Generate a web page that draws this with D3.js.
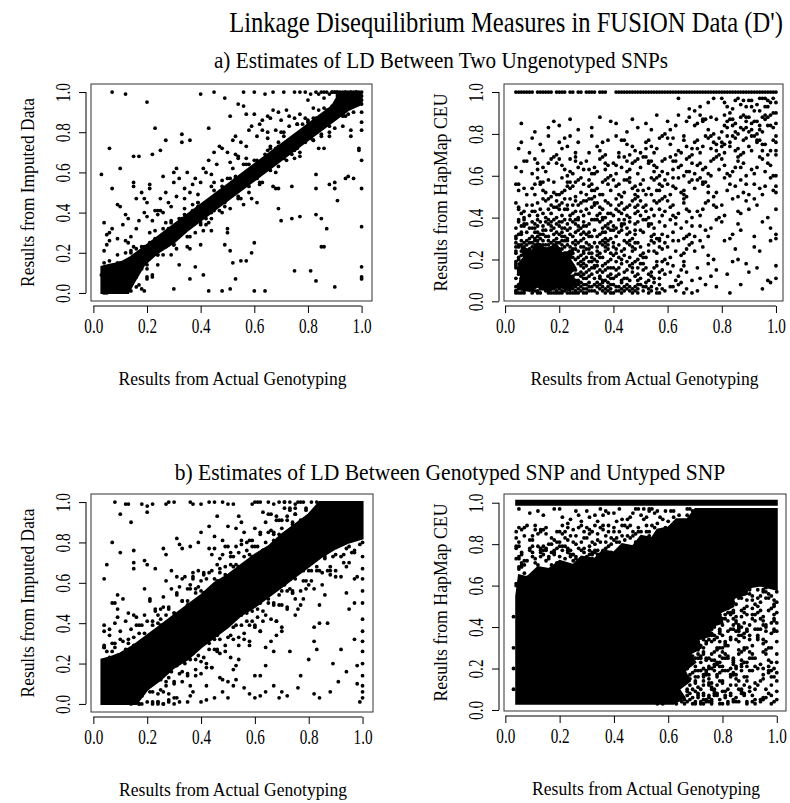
<!DOCTYPE html>
<html>
<head>
<meta charset="utf-8">
<script src="https://cdnjs.cloudflare.com/ajax/libs/d3/7.8.5/d3.min.js"></script>
<style>
  body { margin: 0; background: #fff; }
  text { font-family: "Liberation Serif", "Times New Roman", serif; fill: #000; }
</style>
</head>
<body>
<svg id="chart" width="790" height="803"></svg>
<script>

var tickValues = [0, 0.2, 0.4, 0.6, 0.8, 1.0];
var mainTitle = "Linkage Disequilibrium Measures in FUSION Data (D')";
var subTitleA = "a) Estimates of LD Between Two Ungenotyped SNPs";
var subTitleB = "b) Estimates of LD Between Genotyped SNP and Untyped SNP";
var xLabel = "Results from Actual Genotyping";
var yLabelImputed = "Results from Imputed Data";
var yLabelHapMap = "Results from HapMap CEU";

// point data: flat x,y pairs in hundredths
// "dense" arrays outline the areas where the dots merge into solid black

// ---- a) imputed vs actual ----
var tlDense = [3,0, 13,0, 15,5, 19,14, 24,20, 30,25, 35,31, 41,37, 46,42, 52,48, 57,53, 63,59, 68,64, 74,70, 79,75, 85,81, 90,86, 95,91, 100,94,
  100,100, 92,100, 89,93, 84,88, 78,82, 73,77, 67,71, 62,66, 56,60, 51,55, 45,49, 40,44, 34,38, 29,33, 23,27, 18,22, 14,18, 10,15, 6,14, 3,13];
var tlBand = [
  4,7, 5,0, 6,13, 7,5, 8,9, 9,3, 10,15, 11,10, 12,20, 13,9, 14,16, 15,8, 16,22, 17,14, 18,18, 19,23, 20,12, 21,30, 22,20, 23,26, 24,19, 25,26,
  26,32, 27,23, 28,27, 29,36, 30,24, 31,33, 32,37, 33,30, 34,42, 35,28, 36,36, 37,41, 38,36, 39,45, 40,35, 41,44, 42,34, 43,44, 44,53, 45,41,
  46,48, 47,46, 48,53, 49,43, 50,57, 51,48, 52,52, 53,57, 54,47, 55,58, 56,64, 57,55, 58,53, 59,60, 60,66, 61,57, 62,64, 63,55, 64,69, 65,64,
  66,73, 67,64, 68,72, 69,63, 70,70, 71,80, 72,70, 73,76, 74,69, 75,76, 76,84, 77,70, 78,80, 79,75, 80,86, 81,80, 82,87, 83,80, 84,91, 85,79,
  86,86, 87,90, 88,80, 89,93, 90,88, 91,100, 92,93, 93,88, 94,100, 95,92, 96,98, 97,90, 98,100, 99,98,
  4,0, 5,9, 6,4, 7,8, 8,3, 9,15, 10,3, 11,14, 12,12, 13,9, 14,21, 15,12, 16,8, 17,19, 18,23, 19,18, 20,14, 21,25, 22,20, 23,31, 24,19, 25,26,
  26,19, 27,30, 28,24, 29,35, 30,30, 31,22, 32,34, 33,30, 34,39, 35,34, 36,28, 37,44, 38,36, 39,43, 40,34, 41,42, 42,37, 43,46, 44,37, 45,51,
  46,46, 47,44, 48,56, 49,45, 50,52, 51,42, 52,51, 53,58, 54,48, 55,58, 56,54, 57,64, 58,50, 59,60, 60,57, 61,66, 62,55, 63,65, 64,63, 65,71,
  66,61, 67,68, 68,60, 69,73, 70,68, 71,78, 72,66, 73,76, 74,74, 75,71, 76,84, 77,68, 78,80, 79,76, 80,85, 81,80, 82,76, 83,87, 84,85, 85,78,
  86,92, 87,85, 88,83, 89,92, 90,82, 91,98, 92,92, 93,89, 94,96, 95,89, 96,100, 97,94, 98,100, 99,98,
  5,11, 7,3, 9,19, 11,3, 13,25, 15,23, 17,13, 19,21, 21,19, 23,27, 25,41, 27,35, 29,19, 31,33, 33,37, 35,23, 37,37, 39,45, 41,31, 43,35,
  45,55, 47,41, 49,49, 51,57, 53,69, 55,47, 57,67, 59,47, 61,45, 63,81, 65,77, 67,53, 69,75, 71,67, 73,83, 75,67, 77,89, 79,87, 81,77, 83,85,
  85,83, 87,91, 89,100, 91,99, 93,83, 95,97,
  6,16, 8,6, 10,12, 12,8, 14,20, 16,32, 18,12, 20,8, 22,8, 24,14, 26,40, 28,32, 30,24, 32,14, 34,36, 36,22, 38,30, 40,24, 42,40, 44,40,
  46,48, 48,40, 50,32, 52,62, 54,68, 56,44, 58,64, 60,60, 62,54, 64,62, 66,72, 68,52, 70,80, 72,70, 74,76, 76,72, 78,84, 80,96, 82,76, 84,72,
  86,72, 88,78, 90,100, 92,96, 94,88, 96,78
];
var tlScatter = [
  7,100, 12,99, 20,95, 3,59, 6,72, 10,62, 7,52, 4,35, 23,82, 27,76, 25,71, 22,69, 15,68, 17,68, 33,79, 33,75, 36,76, 43,82, 40,99, 45,100,
  49,97, 54,94, 56,93, 56,100, 60,100, 64,99, 67,100, 71,100, 57,89, 60,89, 51,88, 67,91, 65,88, 15,55, 15,53, 9,44, 10,43, 12,39, 13,37, 16,47,
  18,50, 19,47, 20,45, 21,52, 21,54, 19,40, 23,41, 24,41, 26,58, 28,45, 30,60, 31,62, 32,57, 30,55, 27,50, 25,47, 29,43, 31,48, 34,52, 35,60,
  37,54, 36,50, 38,57, 41,62, 42,60, 43,66, 45,70, 46,64, 47,73, 48,72, 50,70, 52,76, 53,78, 55,75, 58,81, 59,83, 62,84, 63,86, 66,87, 69,90,
  72,91, 70,86, 73,88, 61,78, 57,73, 44,59, 40,55, 24,39, 22,36, 14,28, 12,26, 9,27, 6,26, 5,29, 7,32, 11,34, 17,36, 20,38, 34,47, 39,49,
  51,65, 54,67, 65,80, 68,81, 75,87, 82,92, 86,97, 4,15, 4,21, 5,24, 3,9, 6,30,
  100,52, 100,13, 100,8, 100,7, 100,33, 100,66, 99,72, 99,71, 100,81, 100,85, 100,90, 96,81, 97,57, 95,58, 94,57, 90,55, 90,52, 91,46, 88,54, 87,32,
  85,37, 85,23, 86,23, 83,39, 83,52, 83,59, 77,38, 74,37, 74,53, 69,42, 70,36, 69,52, 75,11, 81,11, 83,6, 90,3, 60,1, 64,1, 51,2, 48,1,
  43,1, 36,7, 30,2, 41,9, 52,15, 55,16, 57,16, 60,25, 59,20, 53,7, 38,13, 49,24, 50,30, 51,21, 44,31, 14,1, 16,3, 18,2, 11,1, 9,1, 19,1,
  17,4, 20,7, 22,9,
  75,100, 77,100, 79,100, 81,99, 83,100, 84,99, 85,100, 86,100, 87,100, 88,99, 89,100, 90,100, 91,100, 92,100, 93,100, 94,100, 95,100, 96,100,
  97,100, 98,100, 99,100, 100,100, 100,98, 100,96, 100,94, 99,97
];

// ---- a) HapMap vs actual ----
var trTopRowX = [4,5,6,7,8,9,10,12,13,14,15,16,17,19,20,21,22,24,25,27,28,30,31,32,33,35,36,37,41,42,43,44,45,46,47,48,49,50,51,52,53,54,55,56,57,58,
  59,60,61,62,63,64,65,66,67,68,69,70,71,72,73,74,75,76,77,78,79,80,81,82,83,84,85,86,87,88,89,90,91,92,93,94,95,96,97,98,99,100];
var trDense = [5,6, 9,5, 12,7, 16,5, 20,7, 24,5, 26,9, 23,12, 26,16, 24,20, 25,24, 21,23, 19,27, 15,25, 12,28, 10,24, 6,26, 7,21, 5,18, 6,13];
var trPoints = [
  7,5, 6,6, 9,9, 5,7, 4,4, 7,4, 6,7, 5,6, 4,5, 8,8, 6,4,
  17,6, 10,5, 14,8, 18,7, 12,4, 15,5, 19,7, 11,9, 16,5, 13,4, 17,8, 10,6, 14,6, 16,7, 19,4, 12,5, 15,6, 18,9, 11,7, 17,4, 13,8, 10,4,
  21,9, 26,5, 23,4, 27,8, 20,6, 24,6, 26,7, 29,4, 22,5, 25,6, 28,9, 21,7, 27,4, 23,8, 20,4, 24,7, 29,6, 26,8, 21,5, 28,5,
  39,4, 32,5, 35,6, 38,9, 31,7, 37,4, 33,8, 30,4, 34,7, 39,6, 36,7, 31,5, 38,5, 35,8, 32,7, 37,6,
  40,4, 44,7, 49,6, 46,7, 41,5, 48,5, 45,6, 42,7, 47,4, 43,4, 40,8, 44,5, 43,6, 48,7,
  52,7, 57,4, 53,4, 50,8, 54,5, 53,6, 58,6, 55,9, 51,7, 56,4, 65,9, 61,7, 66,4, 69,4, 62,7, 74,8, 78,7, 83,4, 87,8, 95,6, 98,9,
  7,13, 5,15, 4,17, 7,10, 5,14, 4,18, 8,12, 4,19, 6,11, 9,18, 6,15, 5,13, 5,16, 7,14, 4,16,
  16,19, 19,10, 12,11, 15,18, 18,15, 11,13, 17,16, 13,14, 10,16, 14,19, 19,18, 16,13, 11,11, 18,17, 15,12, 12,19, 17,10, 13,16, 10,14, 14,17,
  13,17, 18,12, 15,15, 11,19, 16,10, 19,16, 12,13, 17,18, 10,11, 14,14,
  23,14, 20,16, 24,19, 29,18, 26,13, 21,11, 28,17, 25,12, 22,19, 27,10, 23,16, 20,14, 24,17, 23,17, 28,12, 25,15, 21,19, 26,10, 29,16, 22,13,
  27,18, 20,11, 24,14, 28,19, 22,16, 25,11, 29,13, 21,15,
  35,12, 32,19, 37,10, 33,16, 30,14, 34,17, 33,17, 38,12, 35,15, 31,19, 36,10, 39,16, 32,13, 37,18, 30,11, 34,14, 38,19, 32,16, 35,11, 39,13,
  31,15, 36,17,
  48,12, 45,15, 41,19, 46,10, 49,16, 42,13, 47,18, 40,11, 44,14, 48,19, 42,16, 45,11, 49,13, 41,15, 46,17, 43,10, 47,14,
  50,11, 54,14, 58,19, 52,16, 55,11, 59,13, 51,15, 56,17, 53,10, 57,14, 50,18, 54,12, 56,19,
  66,17, 63,10, 67,14, 60,18, 64,12, 66,19, 69,10, 72,11, 75,18, 78,15, 84,19, 89,18, 97,10, 93,16, 90,14,
  5,26, 7,24, 4,26, 8,29, 7,28, 4,23, 5,21, 6,27, 9,22, 6,29, 5,20, 7,26, 4,24, 8,27,
  18,27, 15,22, 12,29, 17,20, 13,26, 10,24, 14,27, 13,27, 18,22, 15,25, 11,29, 16,20, 19,26, 12,23, 17,28, 10,21, 14,24, 18,29, 12,26, 15,21,
  19,23, 11,25, 16,27, 13,20, 17,24, 10,28, 14,22, 16,29,
  23,27, 28,22, 25,25, 21,29, 26,20, 29,26, 22,23, 27,28, 20,21, 24,24, 28,29, 22,26, 25,21, 29,23, 21,25, 26,27, 23,20, 27,24, 20,28, 24,22,
  26,29, 29,20, 22,21, 25,28,
  37,28, 30,21, 34,24, 38,29, 32,26, 35,21, 39,23, 31,25, 36,27, 33,20, 37,24, 30,28, 34,22, 36,29, 39,20, 32,21, 35,28, 38,25, 31,23, 37,26,
  41,25, 46,27, 43,20, 47,24, 40,28, 44,22, 46,29, 49,20, 42,21, 45,28, 48,25, 41,23, 47,26, 43,24, 40,26, 44,29, 49,28,
  59,20, 52,21, 55,28, 58,25, 51,23, 57,26, 53,24, 50,26, 54,29, 59,28, 56,23, 51,21,
  60,26, 64,29, 69,28, 66,23, 61,21, 68,27, 65,22, 62,29, 72,29, 77,20, 73,26, 70,24, 85,25, 81,29, 86,20, 94,24, 98,29, 92,26,
  8,37, 7,37, 6,32, 9,35, 5,39, 4,30, 7,36, 6,33, 5,38, 4,31,
  12,33, 17,38, 10,31, 14,34, 18,39, 12,36, 15,31, 19,33, 11,35, 16,37, 13,30, 17,34, 10,38, 14,32, 16,39, 19,30, 12,31, 15,38, 18,35, 11,33,
  29,33, 21,35, 26,37, 23,30, 27,34, 20,38, 24,32, 26,39, 29,30, 22,31, 25,38, 28,35, 21,33, 27,36, 23,34, 20,36, 24,39, 29,38, 26,33, 21,31,
  36,39, 39,30, 32,31, 35,38, 38,35, 31,33, 37,36, 33,34, 30,36, 34,39, 39,38, 36,33, 31,31, 38,37, 35,32, 32,39, 37,30,
  43,34, 40,36, 44,39, 49,38, 46,33, 41,31, 48,37, 45,32, 42,39, 47,30, 43,36, 40,34, 44,37, 43,37, 48,32, 45,35,
  55,32, 52,39, 57,30, 53,36, 50,34, 54,37, 53,37, 58,32, 55,35, 51,39, 56,30, 59,36,
  68,32, 65,35, 61,39, 66,30, 69,36, 62,33, 67,38, 60,31, 70,31, 74,34, 78,39, 72,36, 75,31, 86,37, 83,30, 87,34, 80,38, 92,31, 95,38, 98,35,
  9,41, 7,43, 5,45, 4,47, 7,40, 5,44,
  14,42, 16,49, 19,40, 12,41, 15,48, 18,45, 11,43, 17,46, 13,44, 10,46, 14,49, 19,48,
  27,46, 23,44, 20,46, 24,49, 29,48, 26,43, 21,41, 28,47, 25,42, 22,49, 27,40, 23,46, 20,44,
  38,47, 35,42, 32,49, 37,40, 33,46, 30,44, 34,47, 33,47, 38,42, 35,45, 31,49, 36,40, 39,46,
  43,47, 48,42, 45,45, 41,49, 46,40, 49,46, 42,43, 47,48, 40,41, 44,44, 48,49, 42,46, 45,41, 49,43,
  57,48, 50,41, 54,44, 58,49, 52,46, 55,41, 59,43, 51,45, 56,47, 53,40, 57,44, 50,48,
  61,45, 66,47, 63,40, 67,44, 60,48, 64,42, 66,49, 69,40, 62,41, 79,40, 72,41, 75,48, 78,45, 71,43, 77,46, 73,44,
  80,46, 84,49, 89,48, 86,43, 81,41, 92,49, 97,40, 93,46, 90,44,
  5,53, 5,56, 7,54, 4,56, 11,51, 18,57, 15,52, 12,59, 17,50, 13,56, 10,54, 14,57, 13,57, 18,52,
  24,57, 23,57, 28,52, 25,55, 21,59, 26,50, 29,56, 22,53, 27,58, 20,51, 24,54,
  32,53, 37,58, 30,51, 34,54, 38,59, 32,56, 35,51, 39,53, 31,55, 36,57, 33,50,
  49,53, 41,55, 46,57, 43,50, 47,54, 40,58, 44,52, 46,59, 49,50, 42,51, 45,58, 48,55,
  56,59, 59,50, 52,51, 55,58, 58,55, 51,53, 57,56, 53,54, 50,56, 54,59, 59,58, 56,53,
  63,54, 60,56, 64,59, 69,58, 66,53, 61,51, 68,57, 65,52, 62,59, 67,50,
  75,52, 72,59, 77,50, 73,56, 70,54, 74,57, 73,57, 78,52, 75,55, 88,52, 85,55, 81,59, 86,50, 89,56, 82,53, 87,58,
  90,51, 94,54, 98,59, 92,56, 95,51, 99,53,
  4,64, 8,67, 7,67, 19,66, 12,63, 17,68, 10,61, 14,64, 18,69, 12,66,
  25,61, 29,63, 21,65, 26,67, 23,60, 27,64, 20,68, 24,62, 26,69, 34,62, 36,69, 39,60, 32,61, 35,68, 38,65, 31,63, 37,66, 33,64,
  47,66, 43,64, 40,66, 44,69, 49,68, 46,63, 41,61, 48,67, 45,62, 42,69,
  58,67, 55,62, 52,69, 57,60, 53,66, 50,64, 54,67, 53,67, 58,62, 55,65, 51,69,
  63,67, 68,62, 65,65, 61,69, 66,60, 69,66, 62,63, 67,68, 60,61, 64,64, 68,69,
  77,68, 70,61, 74,64, 78,69, 72,66, 75,61, 79,63, 71,65, 76,67, 81,65, 86,67, 83,60, 87,64, 80,68, 84,62, 86,69, 89,60, 82,61,
  99,60, 92,61, 95,68, 98,65, 91,63, 97,66, 93,64,
  6,76, 9,71, 10,78, 14,72, 16,79, 19,70, 21,73, 27,76, 23,74, 20,76, 24,79, 31,71, 38,77, 35,72, 32,79, 37,70,
  44,77, 43,77, 48,72, 45,75, 41,79, 46,70, 52,73, 57,78, 50,71, 54,74, 58,79, 52,76, 55,71,
  69,73, 61,75, 66,77, 63,70, 67,74, 60,78, 64,72, 66,79, 69,70,
  76,79, 79,70, 72,71, 75,78, 78,75, 71,73, 77,76, 73,74, 70,76, 74,79, 79,78, 76,73,
  83,74, 80,76, 84,79, 89,78, 86,73, 81,71, 88,77, 85,72, 82,79, 87,70, 83,76, 80,74,
  95,72, 92,79, 97,70, 93,76, 90,74, 94,77, 93,77, 98,72, 95,75, 91,79,
  6,85, 16,83, 11,81, 20,84, 24,87, 39,86, 32,83, 45,81, 49,83, 41,85, 54,82, 56,89, 59,80, 67,86, 63,84, 60,86, 64,89,
  78,87, 75,82, 72,89, 77,80, 73,86, 70,84, 74,87, 73,87,
  83,87, 88,82, 85,85, 81,89, 86,80, 89,86, 82,83, 87,88, 80,81, 84,84, 88,89, 82,86, 85,81, 89,83,
  97,88, 90,81, 94,84, 98,89, 92,86, 95,81, 99,83, 91,85, 96,87, 93,80, 97,84, 90,88, 94,82, 96,89,
  64,97, 72,93, 77,97, 70,91, 89,93, 81,95, 86,97, 83,90, 87,94, 80,97, 84,92, 85,96,
  96,97, 99,90, 92,91, 95,97, 98,95, 91,93, 97,96, 93,94, 90,96, 94,97, 99,97, 96,93,
  100,11, 100,17, 100,30, 100,32, 100,44, 100,52, 100,55, 100,60, 100,70, 100,72, 100,76, 100,79, 100,85, 100,90, 100,95
];
var trMore = [
  5,4, 4,5, 8,6, 7,8, 4,7, 5,8, 7,6, 6,9,
  19,8, 10,7, 17,7, 13,6, 18,4, 15,8, 16,8, 19,5, 14,9, 11,5, 12,8, 18,6, 11,8, 16,4,
  20,8, 22,7, 22,9, 23,6, 24,4, 25,8, 25,4, 27,6, 28,7, 29,8, 21,4, 26,4, 24,9, 27,9,
  30,6, 33,5, 34,4, 36,5, 38,7, 39,8, 31,9, 34,9, 36,9, 30,8, 41,7, 42,5, 45,8, 46,5, 47,6, 49,8, 43,9, 49,4,
  51,5, 54,7, 56,6, 57,8, 59,5, 52,9, 63,5, 67,6, 64,8, 71,5,
  8,16, 9,11, 6,18, 7,17, 9,14, 8,19, 6,13, 4,11,
  10,19, 12,15, 13,11, 16,15, 17,12, 18,10, 19,13, 11,17, 13,19, 15,14,
  20,18, 21,13, 22,11, 23,19, 24,12, 25,17, 26,15, 27,13, 28,14, 29,11,
  30,17, 31,12, 33,11, 34,19, 36,14, 37,15, 38,16, 39,11, 40,16, 41,12, 43,18, 44,11, 45,19, 47,16, 49,10,
  51,18, 53,13, 55,16, 57,11, 58,15, 61,14, 62,17, 65,15, 71,16, 76,12, 82,13,
  9,25, 6,22, 8,21, 4,28, 9,28, 6,24, 8,23, 5,27,
  10,26, 11,21, 11,27, 12,20, 13,23, 14,29, 15,27, 16,24, 17,22, 18,25, 19,21, 19,28,
  20,23, 21,27, 22,29, 23,22, 24,26, 25,23, 26,25, 27,21, 28,26, 29,24, 20,25, 23,29,
  30,25, 31,27, 32,23, 33,28, 34,26, 35,23, 36,21, 38,27, 40,22, 42,27, 44,25, 46,21, 48,28,
  50,22, 53,27, 55,24, 57,29, 63,24, 67,25, 75,22,
  4,35, 6,36, 8,33, 9,30, 5,32, 7,39,
  10,35, 11,37, 12,39, 13,32, 14,36, 15,34, 16,31, 17,36, 18,32, 19,37, 13,38, 11,30,
  20,32, 21,38, 22,35, 23,37, 24,35, 25,31, 27,39, 28,32, 29,36, 22,39,
  30,32, 31,37, 33,39, 34,31, 36,35, 37,33, 39,34, 41,35, 42,33, 46,38, 48,34, 51,33, 54,31, 57,38, 63,37, 67,31, 76,35, 84,32,
  6,42, 8,46, 10,43, 12,47, 15,40, 16,44, 17,42, 19,45, 21,47, 22,44, 24,41, 25,46, 26,48, 28,43, 29,41,
  30,48, 31,42, 32,45, 34,41, 36,44, 37,48, 39,42, 41,44, 43,42, 46,46, 48,45, 52,43, 55,48, 58,41, 62,46, 68,43, 74,47, 87,42,
  8,51, 11,56, 14,53, 16,58, 19,51, 21,52, 23,55, 26,57, 28,59, 31,58, 33,53, 36,51, 38,56, 42,56, 44,58, 48,51,
  51,58, 54,51, 57,53, 62,55, 66,51, 71,58, 83,56, 96,55,
  6,62, 11,68, 15,62, 16,66, 22,63, 28,66, 24,68, 30,67, 33,61, 37,63, 41,65, 45,67, 49,61, 56,64, 59,68,
  62,67, 67,62, 73,63, 76,60, 85,64, 88,66, 94,69, 96,62,
  5,73, 13,75, 22,78, 26,71, 34,74, 36,76, 42,71, 47,74, 53,77, 56,73, 62,78, 65,71, 71,77, 78,72, 81,75, 85,78, 88,71, 91,72, 96,75, 99,77,
  18,86, 27,82, 35,88, 47,87, 52,85, 61,82, 68,88, 71,85, 76,88, 81,84, 84,87, 87,83, 89,88, 91,82, 93,86, 95,88, 98,84,
  68,92, 75,95, 82,93, 88,96, 91,96, 94,91, 97,93
];

// ---- b) imputed vs actual ----
var blDense = [3,0, 16,0, 20,7, 25,12, 30,18, 35,22, 40,28, 45,33, 50,38, 55,44, 60,48, 65,53, 70,58, 75,63, 80,68, 85,73, 90,77, 95,80, 100,82,
  100,100, 84,100, 80,94, 75,89, 70,84, 65,78, 60,74, 55,69, 50,64, 45,60, 40,54, 35,49, 30,44, 25,39, 20,34, 15,29, 10,25, 6,23, 3,22];
var blPoints = [
  4,28, 5,21, 6,34, 7,26, 8,30, 9,24, 10,36, 11,31, 12,41, 13,30, 14,37, 15,29, 16,43, 17,35, 18,39, 19,44, 20,33, 21,51, 22,41, 23,47, 24,40,
  25,47, 26,53, 27,44, 28,48, 29,57, 30,45, 31,54, 32,58, 33,51, 34,63, 35,49, 36,57, 37,62, 38,57, 39,66, 40,56, 41,65, 42,55, 43,65, 44,74,
  45,62, 46,69, 47,67, 48,74, 49,64, 50,78, 51,69, 52,73, 53,78, 54,68, 55,79, 56,85, 57,76, 58,74, 59,81, 60,87, 61,78, 62,85, 63,76, 64,90,
  65,85, 66,94, 67,85, 68,93, 69,84, 70,91, 71,100, 72,91, 73,97, 74,90, 75,97, 76,100, 77,91, 78,100, 79,96, 81,100, 83,100,
  4,28, 5,16, 6,23, 7,21, 8,28, 9,18, 10,32, 11,23, 12,27, 13,32, 14,22, 15,33, 16,39, 17,30, 18,28, 19,35, 20,41, 21,32, 22,39, 23,30, 24,44,
  25,39, 26,48, 27,39, 28,47, 29,38, 30,45, 31,55, 32,45, 33,51, 34,44, 35,51, 36,59, 37,45, 38,55, 39,50, 40,61, 41,55, 42,62, 43,55, 44,66,
  45,54, 46,61, 47,65, 48,55, 49,68, 50,63, 51,75, 52,68, 53,63, 54,75, 55,67, 56,73, 57,65, 58,81, 59,73, 60,78, 61,71, 62,84, 63,76, 64,80,
  65,74, 66,86, 67,81, 68,91, 69,80, 70,87, 71,79, 72,93, 73,85, 74,89, 75,94, 76,83, 77,100, 78,91, 79,97, 80,90,
  5,22, 7,30, 9,43, 11,52, 13,45, 15,44, 17,39, 19,57, 21,52, 23,46, 25,42, 27,61, 29,66, 31,63, 33,62, 35,57, 37,63, 39,58, 41,64, 43,77,
  45,77, 47,72, 49,78, 51,73, 53,69, 55,81, 57,80, 59,78, 61,100, 63,95, 65,94, 67,84, 69,91, 71,97, 73,96, 75,94,
  14,2, 17,0, 18,4, 21,6, 22,1, 23,12, 24,0, 25,7, 26,0, 27,11, 28,5, 29,16, 30,11, 31,3, 32,15, 33,11, 34,20, 35,15, 36,9, 37,25, 38,17,
  39,24, 40,15, 41,23, 42,18, 43,27, 44,18, 45,32, 46,27, 47,25, 48,37, 49,26, 50,33, 51,23, 52,32, 53,39, 54,29, 55,39, 56,35, 57,45, 58,31,
  59,41, 60,38, 61,47, 62,36, 63,46, 64,44, 65,52, 66,42, 67,49, 68,41, 69,54, 70,49, 71,59, 72,47, 73,57, 74,55, 75,52, 76,65, 77,49, 78,61,
  79,57, 80,66, 81,61, 82,57, 83,68, 84,66, 85,59, 86,73, 87,66, 88,64, 89,73, 90,63, 91,79, 92,73, 93,70, 94,77, 95,70, 96,82, 97,75, 98,87, 99,79,
  16,8, 17,0, 18,4, 19,9, 21,16, 22,6, 23,12, 24,5, 25,12, 26,18, 27,9, 28,13, 29,22, 30,10, 31,19, 32,23, 33,16, 34,28, 35,14, 36,22, 37,27,
  38,22, 39,31, 40,21, 41,30, 42,20, 43,30, 44,39, 45,27, 46,34, 47,32, 48,39, 49,29, 50,43, 51,34, 52,38, 53,43, 54,33, 55,44, 56,50, 57,41,
  58,39, 59,46, 60,52, 61,43, 62,50, 63,41, 64,55, 65,50, 66,59, 67,50, 68,58, 69,49, 70,56, 71,66, 72,56, 73,62, 74,55, 75,62, 76,70, 77,56,
  78,66, 79,61, 80,72, 81,66, 82,73, 83,66, 84,77, 85,65, 86,72, 87,76, 88,66, 89,79, 90,74, 91,86, 92,79, 93,74, 94,86, 95,78, 96,84, 97,76,
  98,92, 99,84,
  20,1, 24,1, 26,6, 28,2, 36,4, 38,14, 42,9, 44,18, 46,26, 48,12, 50,11, 52,17, 54,22, 56,32, 58,29, 60,39, 62,36, 64,28, 66,31, 68,41,
  70,38, 72,48, 74,56, 76,47, 78,52, 80,59, 82,38, 84,49, 86,54, 88,68, 90,66, 92,63, 94,68, 96,75, 98,63,
  8,100, 12,99, 13,99, 18,99, 20,98, 20,95, 22,99, 27,99, 28,100, 30,100, 36,100, 37,99, 40,99, 43,100, 45,100, 48,100, 50,99, 52,99, 59,99,
  60,100, 62,100, 65,100, 67,99, 69,100, 71,100, 73,100, 75,99,
  10,94, 7,80, 10,75, 5,69, 4,62, 7,50, 8,50, 9,54, 9,47, 15,70, 15,67, 15,76, 14,90, 19,71, 20,69, 23,67, 26,77, 27,74, 31,82, 32,79, 33,77,
  37,65, 36,78, 39,80, 40,85, 43,88, 45,83, 46,93, 50,88, 48,81, 53,87, 55,90, 54,93, 4,39, 4,36, 4,29, 5,26, 6,37, 8,40,
  100,80, 100,73, 100,67, 100,62, 100,56, 100,50, 100,42, 100,36, 100,31, 100,26, 100,20, 100,14, 100,9, 100,6, 100,3, 99,1, 98,10, 98,19,
  97,32, 97,50, 95,47, 97,62, 94,55, 94,16, 92,27, 89,20, 88,6, 91,11, 84,3, 82,5, 80,22, 82,31, 83,27, 84,40, 87,40, 77,14, 76,8, 72,4,
  70,6, 69,3, 67,9, 64,6, 62,4, 60,3, 58,5, 56,8, 53,12, 52,9, 50,3, 48,6, 45,3, 42,2, 40,1, 37,6, 35,1, 32,1, 30,3, 68,34, 70,36, 75,44,
  73,26, 67,26, 64,19, 62,14, 60,14, 53,19, 47,13, 14,0, 16,1, 18,0, 22,0, 24,1, 26,0, 28,1, 30,0
];

// ---- b) HapMap vs actual ----
var brTopRow = [4,99, 100,99, 100,101, 4,101];
var brDense = [4,3, 62,3, 66,6, 64,10, 68,14, 66,19, 70,23, 68,27, 72,30, 71,34, 76,36, 75,40, 80,42, 79,47, 84,50, 84,54, 89,56, 89,59, 94,60, 100,58,
  100,97, 70,97, 67,92, 63,92, 60,88, 56,87, 54,83, 50,84, 47,79, 43,80, 40,76, 36,77, 33,73, 28,74, 25,70, 20,72, 16,68, 12,69, 8,64, 5,65, 4,55];
var brPoints = [
  5,69, 4,60, 7,66, 6,63, 5,68, 4,61, 8,64, 6,69, 7,70, 5,74, 4,78, 8,72, 4,79, 6,71, 9,78, 6,75, 5,73,
  15,78, 18,75, 11,73, 17,76, 13,74, 10,76, 14,79, 19,78, 16,73, 11,71, 18,77, 15,72, 12,79, 17,70, 13,76, 10,74, 14,77, 13,77,
  29,78, 26,73, 21,71, 28,77, 25,72, 22,79, 27,70, 23,76, 20,74, 24,77, 23,77, 28,72, 25,75, 21,79, 26,70, 29,76, 22,73, 27,78, 20,71, 24,74,
  33,76, 30,74, 34,77, 33,77, 38,72, 35,75, 31,79, 36,70, 39,76, 32,73, 37,78, 30,71, 34,74, 38,79, 32,76, 35,71, 39,73, 31,75, 36,77, 33,70,
  46,70, 49,76, 42,73, 47,78, 40,71, 44,74,
  8,89, 7,88, 4,83, 5,81, 6,87, 17,80, 13,86, 10,84, 14,87, 13,87, 18,82, 15,85, 11,89, 16,80, 19,86,
  21,89, 26,80, 29,86, 22,83, 27,88, 20,81, 24,84, 28,89, 22,86, 25,81, 29,83, 21,85,
  38,89, 32,86, 35,81, 39,83, 31,85, 36,87, 33,80, 37,84, 30,88, 34,82, 36,89, 39,80, 32,81, 35,88,
  47,84, 40,88, 44,82, 46,89, 49,80, 42,81, 45,88, 48,85, 41,83, 47,86, 43,84, 40,86, 44,89, 49,88, 46,83, 41,81,
  58,85, 51,83, 57,86, 53,84, 50,86, 54,89, 59,88, 56,83, 51,81, 58,87, 55,82, 52,89, 57,80, 53,86,
  66,83, 61,81, 68,87, 65,82, 62,89,
  9,95, 5,97, 14,94, 18,97, 12,96, 23,90, 27,94, 20,97, 24,92, 35,97, 38,95, 31,93, 37,96, 33,94,
  49,97, 46,93, 41,91, 48,97, 45,92, 42,97, 53,96, 50,94, 54,97, 53,97, 58,92, 55,95, 51,97, 56,90, 59,96, 52,93,
  66,90, 69,96, 62,93, 67,97, 60,91, 64,94, 68,97, 62,96, 65,91, 69,93,
  58,3, 58,5, 55,8, 56,5, 56,3, 59,9,
  67,4, 60,4, 64,7, 68,5, 62,9, 65,4, 69,6, 61,8, 66,3, 63,3, 67,7, 64,5, 66,5, 69,3, 62,4, 68,8, 61,6, 67,9, 63,7, 60,9,
  66,19, 69,10, 62,11, 65,18, 68,15, 61,13, 67,16, 63,14, 60,16, 64,19, 69,18, 66,13, 61,11, 68,17, 65,12, 62,19, 67,10, 63,16, 60,14, 64,17,
  63,17, 68,12,
  68,27, 65,22, 62,29, 67,20, 63,26, 60,24, 64,27, 63,27, 68,22, 65,25, 61,29, 66,20, 69,26, 62,23, 67,28, 60,21, 64,24, 68,29, 62,26, 65,21,
  69,23, 61,25,
  62,33, 67,38, 60,31, 64,34, 68,39, 62,36, 65,31, 69,33, 61,35, 66,37, 63,30, 67,34, 60,38, 64,32, 66,39, 69,30,
  71,8, 76,3, 73,3, 77,7, 70,4, 74,5, 76,5, 79,3, 72,4, 75,4, 78,8, 71,6, 77,9, 73,7, 70,9,
  73,14, 70,16, 74,19, 79,18, 76,13, 71,11, 78,17, 75,12, 72,19, 77,10, 73,16, 70,14, 74,17, 73,17, 78,12, 75,15, 71,19, 76,10,
  73,27, 78,22, 75,25, 71,29, 76,20, 79,26, 72,23, 77,28, 70,21, 74,24, 78,29, 72,26, 75,21, 79,23, 71,25, 76,27, 73,20, 77,24,
  79,33, 71,35, 76,37, 73,30, 77,34, 70,38, 74,32, 76,39, 79,30, 72,31, 75,38, 78,35, 71,33, 77,36, 73,34, 70,36, 74,39, 79,38, 76,33, 71,31,
  77,46, 73,44, 70,46, 74,49, 79,48, 76,43, 71,41, 78,47, 75,42, 72,49, 77,40, 73,46, 70,44, 74,47, 73,47, 78,42, 75,45, 71,49, 76,40, 79,46,
  89,3, 82,4, 85,4, 88,8, 81,6, 87,9, 83,7, 80,9, 84,5, 89,4,
  85,12, 82,19, 87,10, 83,16, 80,14, 84,17, 83,17, 88,12, 85,15, 81,19, 86,10, 89,16,
  87,28, 80,21, 84,24, 88,29, 82,26, 85,21, 89,23, 81,25, 86,27, 83,20, 87,24, 80,28, 84,22, 86,29,
  86,39, 89,30, 82,31, 85,38, 88,35, 81,33, 87,36, 83,34, 80,36, 84,39, 89,38, 86,33, 81,31, 88,37,
  88,47, 85,42, 82,49, 87,40, 83,46, 80,44, 84,47, 83,47, 88,42, 85,45, 81,49, 86,40, 89,46, 82,43, 87,48, 80,41, 84,44, 88,49,
  82,53, 87,58, 80,51, 84,54, 88,59, 82,56, 85,51, 89,53, 81,55, 86,57, 83,50, 87,54, 80,58, 84,52, 86,59, 89,50, 82,51, 85,58,
  90,9, 94,5, 99,4, 96,6, 91,4, 98,3, 95,5, 92,5,
  98,12, 95,15, 91,19, 96,10, 99,16, 92,13, 97,18, 90,11, 94,14, 98,19,
  91,25, 96,27, 93,20, 97,24, 90,28, 94,22, 96,29, 99,20, 92,21, 95,28,
  93,34, 90,36, 94,39, 99,38, 96,33, 91,31, 98,37, 95,32, 92,39, 97,30, 93,36, 90,34,
  93,47, 98,42, 95,45, 91,49, 96,40, 99,46, 92,43, 97,48, 90,41, 94,44, 98,49, 92,46, 95,41, 99,43,
  99,53, 91,55, 96,57, 93,50, 97,54, 90,58, 94,52, 96,59, 99,50, 92,51, 95,58, 98,55, 91,53, 97,56, 93,54, 90,56,
  100,5, 100,9, 100,14, 100,18, 100,23, 100,27, 100,33, 100,38, 100,42, 100,47, 100,52, 100,57,
  3,45, 3,30, 3,20, 3,10
];
var brMore = [
  73,5, 75,7, 79,5, 73,8, 76,4, 70,3, 78,7, 74,4, 72,3, 77,8, 71,7, 75,6,
  75,13, 71,16, 76,11, 74,18, 79,14, 70,13, 77,19, 73,12, 78,16, 72,10, 75,17, 70,19,
  70,29, 76,24, 73,28, 79,21, 74,25, 77,22, 71,27, 78,23, 72,25, 75,20, 77,21, 70,25,
  70,35, 74,33, 79,37, 72,38, 76,36, 71,32, 78,30, 73,39, 75,34, 79,39,
  76,48, 70,40, 78,44, 74,41, 72,47, 77,45, 71,44, 75,43,
  83,8, 86,4, 80,3, 88,7, 84,4, 82,3, 87,8, 81,7, 85,6, 81,9,
  84,18, 89,14, 80,13, 87,19, 83,12, 88,16, 82,10, 85,17, 80,19, 86,14,
  89,21, 84,25, 87,22, 81,27, 88,23, 82,25, 85,20, 87,21, 80,25, 84,23,
  82,38, 86,36, 81,32, 88,30, 83,39, 85,34, 89,39, 83,35, 86,38, 80,30,
  84,41, 82,47, 87,45, 81,44, 85,43, 81,46, 86,41, 84,48,
  83,52, 88,56, 82,50, 85,57, 80,59, 86,54,
  98,7, 94,4, 92,3, 97,8, 91,7, 95,6, 97,19, 93,12, 98,16, 92,10, 95,17, 90,19,
  91,27, 98,23, 92,25, 95,20, 97,21, 90,25, 98,30, 93,39, 95,34, 99,39, 93,35, 96,38,
  91,44, 95,43, 91,46, 96,41, 94,48, 99,44, 95,57, 90,59, 96,54, 93,58, 99,51, 94,55,
  4,73, 5,79, 7,72, 6,76, 6,70, 9,77, 18,76, 12,70, 15,77, 10,79, 16,74, 13,78, 19,71, 14,75,
  20,79, 26,74, 23,78, 29,71, 24,75, 27,72, 21,77, 28,73, 39,71, 34,75, 37,72, 31,77, 38,73, 32,75, 35,70, 37,71,
  4,86, 7,84, 9,82, 5,88, 10,82, 12,85, 15,88, 17,83, 19,81, 11,87, 20,86, 23,82, 25,87, 26,84, 28,81, 23,88,
  30,83, 31,87, 34,85, 37,81, 38,86, 33,89, 40,82, 42,86, 43,89, 45,84, 48,81, 49,86, 50,83, 52,86, 55,88, 56,85, 59,82, 53,80,
  21,93, 26,96, 28,91, 30,96, 34,91, 36,94, 40,95, 43,92, 47,95, 51,92, 56,96, 57,93, 61,96, 63,91, 67,94
];

function pairs(flat) {
  var out = [];
  for (var i = 0; i < flat.length; i += 2) {
    out.push([flat[i] / 100, flat[i + 1] / 100]);
  }
  return out;
}

// squeeze a text horizontally so it spans the given width (the scan is narrow)
function squeeze(sel, width, before) {
  sel.each(function() {
    var w = this.getComputedTextLength();
    d3.select(this).attr("transform", before + " scale(" + (width / w).toFixed(3) + ",1)");
  });
}

var svg = d3.select("#chart");

var panels = [
  { dense: [tlDense], points: pairs(tlBand).concat(pairs(tlScatter)), ylab: yLabelImputed, ylabLen: 189,
    left: 91, right: 372, top: 84, bottom: 301, xd: [-0.0088, 1.0388], yd: [-0.04, 1.04] },
  { dense: [trDense], points: pairs(trPoints).concat(pairs(trMore), trTopRowX.map(function(v) { return [v / 100, 1]; })),
    ylab: yLabelHapMap, ylabLen: 198,
    left: 504, right: 783, top: 84, bottom: 301, xd: [-0.004, 1.026], yd: [0.0016, 1.0384] },
  { dense: [blDense], points: pairs(blPoints), ylab: yLabelImputed, ylabLen: 189,
    left: 91, right: 373, top: 494, bottom: 712, xd: [-0.0088, 1.0388], yd: [-0.04, 1.04] },
  { dense: [brDense, brTopRow], points: pairs(brPoints).concat(pairs(brMore)), ylab: yLabelHapMap, ylabLen: 198,
    left: 504, right: 786, top: 494, bottom: 711, xd: [-0.005, 1.034], yd: [-0.005, 1.042] }
];

panels.forEach(drawPanel);

function drawPanel(p) {
  var x = d3.scaleLinear().domain(p.xd).range([p.left, p.right]);
  var y = d3.scaleLinear().domain(p.yd).range([p.bottom, p.top]);
  var g = svg.append("g");

  var outline = d3.line()
    .x(function(d) { return x(d[0]); })
    .y(function(d) { return y(d[1]); })
    .curve(d3.curveLinearClosed);
  p.dense.forEach(function(flat) {
    g.append("path")
      .attr("d", outline(pairs(flat)))
      .attr("fill", "#000")
      .attr("stroke", "#000")
      .attr("stroke-width", 2);
  });

  g.selectAll(".dot")
    .data(p.points)
    .enter().append("circle")
    .attr("class", "dot")
    .attr("cx", function(d) { return x(d[0]); })
    .attr("cy", function(d) { return y(d[1]); })
    .attr("r", 1.9)
    .attr("fill", "#000");

  g.append("rect")
    .attr("x", p.left).attr("y", p.top)
    .attr("width", p.right - p.left).attr("height", p.bottom - p.top)
    .attr("fill", "none").attr("stroke", "#333").attr("stroke-width", 1);

  // x axis: R style, line from first to last tick, just under the box
  var xa = g.append("g")
    .attr("transform", "translate(0," + (p.bottom + 5) + ")")
    .call(d3.axisBottom(x).tickValues(tickValues).tickSize(7).tickSizeOuter(0).tickFormat(d3.format(".1f")));
  xa.select(".domain").remove();
  xa.append("line").attr("x1", x(0)).attr("x2", x(1));
  xa.selectAll("line").attr("stroke", "#000");
  xa.selectAll("text")
    .attr("x", 0).attr("y", 0).attr("dy", 0)
    .attr("fill", "#000")
    .style("font-size", "21px")
    .style("font-family", "'Liberation Serif', serif");
  squeeze(xa.selectAll("text"), 19, "translate(0,27)");

  var ya = g.append("g")
    .attr("transform", "translate(" + (p.left - 5) + ",0)")
    .call(d3.axisLeft(y).tickValues(tickValues).tickSize(7).tickSizeOuter(0).tickFormat(d3.format(".1f")));
  ya.select(".domain").remove();
  ya.append("line").attr("y1", y(0)).attr("y2", y(1));
  ya.selectAll("line").attr("stroke", "#000");
  ya.selectAll("text")
    .attr("x", 0).attr("y", 0).attr("dy", 0)
    .attr("text-anchor", "middle")
    .attr("fill", "#000")
    .style("font-size", "21px")
    .style("font-family", "'Liberation Serif', serif");
  squeeze(ya.selectAll("text"), 19, "translate(-16,0) rotate(-90)");

  var xt = svg.append("text")
    .attr("text-anchor", "middle")
    .style("font-size", "19px")
    .text(xLabel);
  squeeze(xt, 228, "translate(" + ((p.left + p.right) / 2 + 1) + "," + (p.bottom + 84) + ")");

  var yt = svg.append("text")
    .attr("text-anchor", "middle")
    .style("font-size", "19px")
    .text(p.ylab);
  squeeze(yt, p.ylabLen, "translate(" + (p.left - 57) + "," + ((p.top + p.bottom) / 2) + ") rotate(-90)");
}

var t0 = svg.append("text").attr("text-anchor", "middle").style("font-size", "29px").text(mainTitle);
squeeze(t0, 554, "translate(506,32)");

var t1 = svg.append("text").attr("text-anchor", "middle").style("font-size", "23px").text(subTitleA);
squeeze(t1, 454, "translate(441,68)");

var t2 = svg.append("text").attr("text-anchor", "middle").style("font-size", "23px").text(subTitleB);
squeeze(t2, 551, "translate(450,480)");

</script>
</body>
</html>
